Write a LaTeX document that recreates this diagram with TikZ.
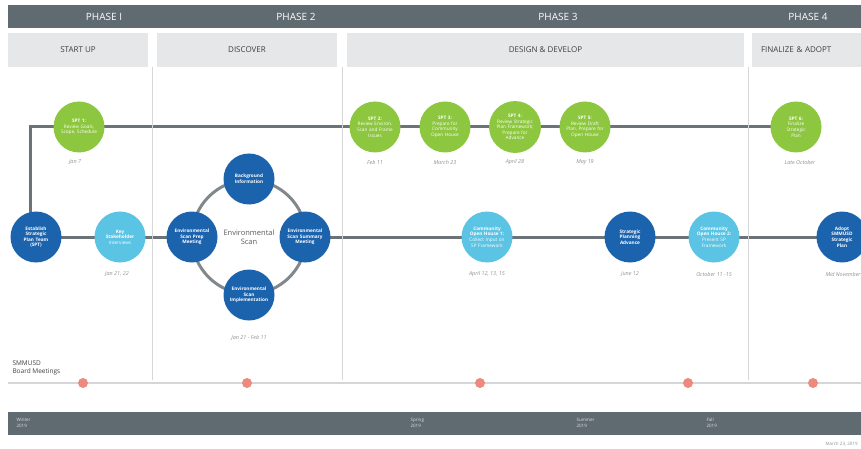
\documentclass[tikz,border=0pt]{standalone}
\usepackage{fontspec}
\setmainfont{Open Sans}
\usetikzlibrary{backgrounds}
\definecolor{bargray}{HTML}{5F6A71}
\definecolor{boxgray}{HTML}{E6E7E8}
\definecolor{rulegray}{HTML}{D4D6D8}
\definecolor{linegray}{HTML}{6B7378}
\definecolor{sptgreen}{HTML}{8DC63F}
\definecolor{leadblue}{HTML}{1B63AD}
\definecolor{openblue}{HTML}{5BC3E3}
\definecolor{boardpink}{HTML}{EC8A7E}
\definecolor{dategray}{HTML}{8A8F93}
\tikzset{
  milestone/.style={circle, minimum size=51pt, inner sep=0pt, align=center,
    text=white, text width=45pt, font=\fontsize{4.7}{5.6}\selectfont},
  spt/.style={milestone, fill=sptgreen},
  lead/.style={milestone, fill=leadblue, font=\fontsize{4.7}{5.6}\selectfont\bfseries},
  public/.style={milestone, fill=openblue},
  when/.style={font=\fontsize{5.4}{6}\selectfont\itshape, text=dategray},
  track/.style={draw=linegray, line width=3pt},
  phasename/.style={font=\fontsize{10}{12}\selectfont, text=white},
  stage/.style={fill=boxgray, minimum height=34pt, inner sep=0pt,
    font=\fontsize{8}{10}\selectfont, text=black!75},
  season/.style={font=\fontsize{4.5}{5.5}\selectfont, text=white!80!bargray,
    align=left, anchor=west}
}

\begin{document}
\begin{tikzpicture}[x=1pt, y=-1pt]
\clip (0,0) rectangle (861,449);

% phases
\fill[bargray] (8,5) rectangle (870,28);
\node[phasename] (ph1) at (104,17) {PHASE I};
\node[phasename] (ph2) at (296,17) {PHASE 2};
\node[phasename] (ph3) at (558,17) {PHASE 3};
\node[phasename] (ph4) at (808,17) {PHASE 4};

\node[stage, minimum width=140pt] (startup) at (78,50) {START UP};
\node[stage, minimum width=180pt] (discover) at (247,50) {DISCOVER};
\node[stage, minimum width=397pt] (design) at (545.5,50) {DESIGN \& DEVELOP};
\node[stage, minimum width=118pt, text width=100pt, align=left] (finalize) at (811,50) {FINALIZE \& ADOPT};

\foreach \x in {152,342,748}
  \draw[rulegray, line width=1pt] (\x,67) -- (\x,380);

% SPT meetings
\node[spt] (spt1) at (79,127) {\textbf{SPT 1:}\\Review Goals,\\Scope, Schedule};
\node[spt] (spt2) at (375,127) {\textbf{SPT 2:}\\Review Environ.\\Scan and Frame\\Issues};
\node[spt] (spt3) at (445,127) {\textbf{SPT 3:}\\Prepare for\\Community\\Open House};
\node[spt] (spt4) at (515,127) {\textbf{SPT 4:}\\Review Strategic\\Plan Framework;\\Prepare for\\Advance};
\node[spt] (spt5) at (585,127) {\textbf{SPT 5:}\\Review Draft\\Plan, Prepare for\\Open House};
\node[spt] (spt6) at (796,127) {\textbf{SPT 6:}\\Finalize\\Strategic\\Plan};

\node[when] (d1) at (75,162) {Jan 7};
\node[when] (d2) at (375,162) {Feb 11};
\node[when] (d3) at (445,162) {March 23};
\node[when] (d4) at (515,162) {April 28};
\node[when] (d5) at (585,162) {May 19};
\node[when] (d6) at (800,162) {Late October};

% main track
\node[lead] (team) at (36,237) {Establish\\Strategic\\Plan Team\\(SPT)};
\node[public] (interviews) at (120,237) {\textbf{Key}\\\textbf{Stakeholder}\\Interviews};
\node[when] (d7) at (117,274) {Jan 21, 22};

\coordinate (scan) at (249,237);
\node[lead] (prep) at (192,237) {Environmental\\Scan Prep\\Meeting};
\node[lead] (background) at (249,179) {Background\\Information};
\node[lead] (summary) at (305,237) {Environmental\\Scan Summary\\Meeting};
\node[lead] (implement) at (249,295) {Environmental\\Scan\\Implementation};
\node[font=\fontsize{7.5}{9}\selectfont, text=black!65, align=center] (scanname) at (scan) {Environmental\\Scan};
\node[when] (d8) at (249,338) {Jan 21 - Feb 11};

\node[public] (house1) at (487,237) {\textbf{Community}\\\textbf{Open House 1:}\\Collect Input on\\SP Framework};
\node[when] (d9) at (487,274) {April 12, 13, 15};
\node[lead] (advance) at (630,237) {Strategic\\Planning\\Advance};
\node[when] (d10) at (630,274) {June 12};
\node[public] (house2) at (714,237) {\textbf{Community}\\\textbf{Open House 2:}\\Present SP\\Framework};
\node[when] (d11) at (714,274) {October 11 -15};
\node[lead] (adopt) at (842,237) {Adopt\\SMMUSD\\Strategic\\Plan};
\node[when, anchor=west] (d12) at (822,274) {Mid November};

\coordinate (corner) at (30,127);
\begin{scope}[on background layer]
  \draw[track] (team.center -| corner) -- (corner) -- (spt6.center);
  \draw[track] (team.center) -- (prep.center);
  \draw[track] (summary.center) -- (adopt.center);
  \draw[track, draw=linegray!85] (scan) circle (57pt);
\end{scope}

% board meetings
\node[font=\fontsize{6.5}{8}\selectfont, text=black!75, align=left, anchor=west] (board) at (9,368) {SMMUSD\\Board Meetings};
\draw[rulegray, line width=1.5pt] (8,383) -- (870,383);
\foreach \x [count=\i] in {83,247,480,688,813}
  \fill[boardpink] (\x,383) circle (5pt);

% seasons
\fill[bargray] (8,412) rectangle (870,435);
\node[season] (winter) at (13,423) {Winter\\2019};
\node[season] (spring) at (407,423) {Spring\\2019};
\node[season] (summer) at (573,423) {Summer\\2019};
\node[season] (fall) at (703,423) {Fall\\2019};
\node[font=\fontsize{4.5}{5}\selectfont, text=dategray, anchor=west] (issued) at (822,444) {March 23, 2019};
\end{tikzpicture}
\end{document}
